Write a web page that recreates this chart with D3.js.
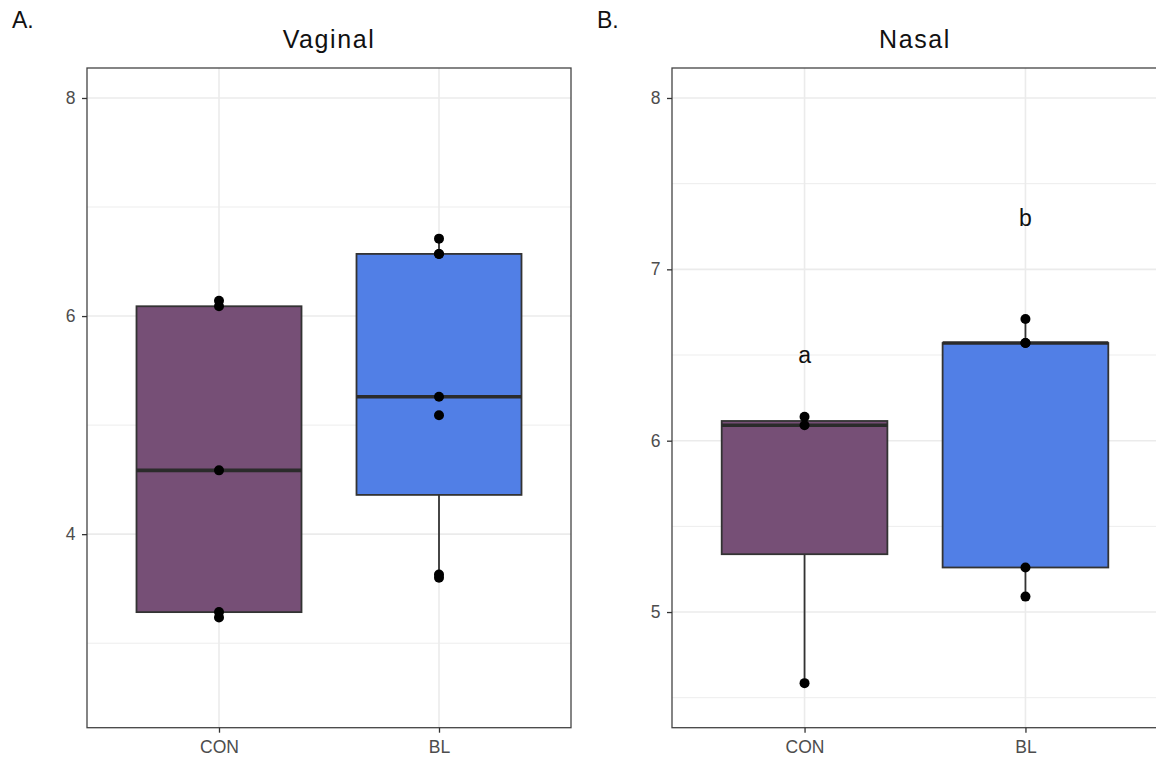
<!DOCTYPE html>
<html>
<head>
<meta charset="utf-8">
<script src="https://cdn.jsdelivr.net/npm/d3@7"></script>
<style>
  body { margin: 0; background: #fff; }
  text { font-family: "Liberation Sans", Arial, Helvetica, sans-serif; }
</style>
</head>
<body>
<svg id="chart" width="1156" height="758"></svg>
<script>
// Measured values per group
const groups = ["CON", "BL"];
const conValues = [6.14, 6.09, 4.585, 3.285, 3.235];
const blValues = [6.71, 6.57, 6.57, 5.26, 5.09, 3.63, 3.60];
const groupColors = ["#764F76", "#517FE6"];

// Per-panel settings
const panelTags = ["A.", "B."];
const panelTitles = ["Vaginal", "Nasal"];
const panelLimits = [[2.5, 8], [4.5, 8]];
const majorTicks = [[4, 6, 8], [5, 6, 7, 8]];
const minorTicks = [[3, 5, 7], [4.5, 5.5, 6.5, 7.5]];
const letterLabels = [[], ["a", "b"]];
const letterValues = [[], [6.5, 7.3]];

const svg = d3.select("#chart");
const panelBoxes = [
  { x0: 87, x1: 571, tagX: 12 },
  { x0: 672, x1: 1158, tagX: 597 }
];
const plotTop = 68, plotBottom = 727.7;
const seriesValues = [conValues, blValues];

function boxStats(vals) {
  const s = vals.slice().sort(d3.ascending);
  const q1 = d3.quantile(s, 0.25), med = d3.quantile(s, 0.5), q3 = d3.quantile(s, 0.75);
  const iqr = q3 - q1;
  const inside = s.filter(v => v >= q1 - 1.5 * iqr && v <= q3 + 1.5 * iqr);
  return { q1, med, q3, lo: d3.min(inside), hi: d3.max(inside) };
}

panelBoxes.forEach((pb, p) => {
  const [lo, hi] = panelLimits[p];
  const pad = (hi - lo) * 0.05;
  const y = d3.scaleLinear().domain([lo - pad, hi + pad]).range([plotBottom, plotTop]);
  const x = d3.scalePoint().domain(groups).range([pb.x0, pb.x1]).padding(0.6);
  const step = x.step();
  const g = svg.append("g");

  // grid
  g.selectAll(".minor").data(minorTicks[p]).join("line")
    .attr("x1", pb.x0).attr("x2", pb.x1)
    .attr("y1", d => y(d)).attr("y2", d => y(d))
    .attr("stroke", "#EDEDED").attr("stroke-width", 1);
  g.selectAll(".major").data(majorTicks[p]).join("line")
    .attr("x1", pb.x0).attr("x2", pb.x1)
    .attr("y1", d => y(d)).attr("y2", d => y(d))
    .attr("stroke", "#EBEBEB").attr("stroke-width", 1.6);
  g.selectAll(".vmajor").data(groups).join("line")
    .attr("x1", d => x(d)).attr("x2", d => x(d))
    .attr("y1", plotTop).attr("y2", plotBottom)
    .attr("stroke", "#EBEBEB").attr("stroke-width", 1.6);

  // boxplots (values outside the panel limits are dropped)
  groups.forEach((grp, i) => {
    const vals = seriesValues[i].filter(v => v >= lo && v <= hi);
    const st = boxStats(vals);
    const cx = x(grp), hw = step * 0.75 / 2;
    const bg = g.append("g");
    bg.append("line").attr("x1", cx).attr("x2", cx)
      .attr("y1", y(st.hi)).attr("y2", y(st.q3))
      .attr("stroke", "#333").attr("stroke-width", 1.8);
    bg.append("line").attr("x1", cx).attr("x2", cx)
      .attr("y1", y(st.q1)).attr("y2", y(st.lo))
      .attr("stroke", "#333").attr("stroke-width", 1.8);
    bg.append("rect")
      .attr("x", cx - hw).attr("width", hw * 2)
      .attr("y", y(st.q3)).attr("height", y(st.q1) - y(st.q3))
      .attr("fill", groupColors[i]).attr("stroke", "#333").attr("stroke-width", 1.8);
    bg.append("line").attr("x1", cx - hw).attr("x2", cx + hw)
      .attr("y1", y(st.med)).attr("y2", y(st.med))
      .attr("stroke", "#2b2b2b").attr("stroke-width", 3.6);
    bg.selectAll("circle").data(vals).join("circle")
      .attr("cx", cx).attr("cy", d => y(d)).attr("r", 5).attr("fill", "#000");
  });

  // letter annotations
  g.selectAll(".letter").data(letterLabels[p]).join("text")
    .attr("x", (d, i) => x(groups[i]))
    .attr("y", (d, i) => y(letterValues[p][i]))
    .attr("dy", "0.35em")
    .attr("text-anchor", "middle")
    .attr("font-size", 23).attr("fill", "#111")
    .text(d => d);

  // panel border
  g.append("rect").attr("x", pb.x0).attr("y", plotTop)
    .attr("width", pb.x1 - pb.x0).attr("height", plotBottom - plotTop)
    .attr("fill", "none").attr("stroke", "#444").attr("stroke-width", 1.3);

  // axes
  const yAxis = g.append("g").attr("transform", `translate(${pb.x0},0)`)
    .call(d3.axisLeft(y).tickValues(majorTicks[p]).tickSize(5).tickPadding(6.5).tickFormat(d3.format("d")));
  const xAxis = g.append("g").attr("transform", `translate(0,${plotBottom})`)
    .call(d3.axisBottom(x).tickSize(5).tickPadding(7.5));
  [yAxis, xAxis].forEach(ax => {
    ax.select(".domain").remove();
    ax.selectAll(".tick line").attr("stroke", "#333").attr("stroke-width", 1.3);
    ax.selectAll(".tick text").attr("fill", "#4D4D4D").attr("font-size", 17.5)
      .style("font-family", "'Liberation Sans', Arial, sans-serif");
  });

  // titles
  svg.append("text").attr("x", (pb.x0 + pb.x1) / 2).attr("y", 48)
    .attr("text-anchor", "middle").attr("font-size", 25).attr("letter-spacing", 1.6)
    .attr("fill", "#111").text(panelTitles[p]);
  svg.append("text").attr("x", pb.tagX).attr("y", 28)
    .attr("font-size", 23).attr("fill", "#111").text(panelTags[p]);
});
</script>
</body>
</html>
